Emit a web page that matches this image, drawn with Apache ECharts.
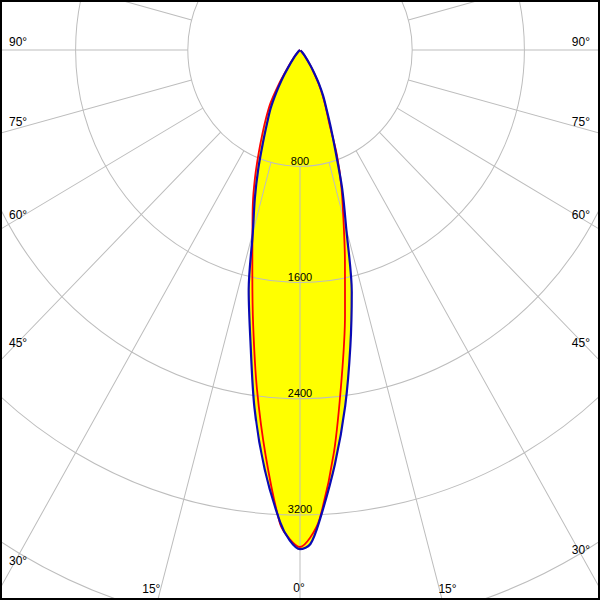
<!DOCTYPE html>
<html><head><meta charset="utf-8">
<script src="https://cdn.jsdelivr.net/npm/echarts@6/dist/echarts.min.js"></script>
<style>
html,body{margin:0;padding:0;background:#fff}
#wrap{position:relative;width:600px;height:600px;overflow:hidden;background:#fff}
#chart{position:absolute;left:0;top:0;width:600px;height:579px;transform:scaleY(1.036269);transform-origin:0 0}
#frame{position:absolute;left:0;top:0;width:600px;height:600px;box-sizing:border-box;border:2px solid #000;pointer-events:none}
</style></head><body>
<div id="wrap"><div id="chart"></div><div id="frame"></div></div>
<script>
// Gamma angles (deg from nadir) and luminous intensities (cd)
const gammas    = [0, 1.25, 2.5, 5, 7.5, 10, 12.5, 15, 17.5, 20, 22.5, 25, 27.5, 30, 32.5, 35, 40, 45, 50, 60, 70, 80, 90];
const blueLeft  = [3435, 3375, 3251, 2894, 2485, 2035, 1690, 1300, 1071, 870, 690, 555, 455, 340, 240, 150, 60, 22, 6, 0, 0, 0, 0];
const blueRight = [3435, 3400, 3236, 2860, 2470, 2068, 1705, 1275, 1000, 740, 570, 445, 360, 275, 190, 130, 55, 20, 5, 0, 0, 0, 0];
const redLeft   = [3420, 3366, 3262, 2804, 2352, 1923, 1570, 1310, 1120, 940, 772, 633, 520, 420, 290, 170, 70, 25, 8, 0, 0, 0, 0];
const redRight  = [3420, 3355, 3227, 2778, 2276, 1848, 1480, 1195, 980, 770, 545, 435, 345, 262, 182, 125, 50, 18, 4, 0, 0, 0, 0];

const radiusTickLabels = ['800', '1600', '2400', '3200'];
const angleTickLabels = ['90°', '75°', '60°', '45°', '30°', '15°', '0°', '15°', '30°', '45°', '60°', '75°', '90°'];

// layout (picture pixels)
const SY = 600 / 579;
const CENTER = [300, 50 / SY];
const PX_PER_CD = 112.2 / 800;
const RMAX = 4800;
const angleLabelLayout = [
  {x: 9, y: 42, align: 'left'},
  {x: 9, y: 121.5, align: 'left'},
  {x: 9, y: 215, align: 'left'},
  {x: 9, y: 342.5, align: 'left'},
  {x: 9, y: 561, align: 'left'},
  {x: 151.3, y: 588.5, align: 'center'},
  {x: 299, y: 588, align: 'center'},
  {x: 447.5, y: 588.5, align: 'center'},
  {x: 590, y: 549.5, align: 'right'},
  {x: 590, y: 342.5, align: 'right'},
  {x: 590, y: 214.5, align: 'right'},
  {x: 590, y: 121.5, align: 'right'},
  {x: 590, y: 42, align: 'right'}
];

function curve(left, right) {
  const pts = [];
  for (let i = gammas.length - 1; i >= 0; i--) pts.push([left[i], gammas[i]]);
  for (let i = 1; i < gammas.length; i++) pts.push([right[i], 360 - gammas[i]]);
  return pts;
}
const blueData = curve(blueLeft, blueRight);
const redData = curve(redLeft, redRight);

const chart = echarts.init(document.getElementById('chart'), null, {renderer: 'svg'});
const FONT = 'Liberation Sans, Arial, sans-serif';
const GRID = '#bdbdbd';
const SMOOTH = 0.3;

const graphics = angleTickLabels.map((t, i) => ({
  type: 'text',
  x: angleLabelLayout[i].x,
  y: angleLabelLayout[i].y / SY,
  z: 10,
  style: {text: t, fill: '#000', font: '12px ' + FONT, align: angleLabelLayout[i].align, verticalAlign: 'middle'}
}));

chart.setOption({
  animation: false,
  backgroundColor: '#fff',
  polar: [
    {center: CENTER, radius: RMAX * PX_PER_CD},
    {center: CENTER, radius: [800 * PX_PER_CD, 720]}
  ],
  angleAxis: [
    {polarIndex: 0, type: 'value', min: 0, max: 360, startAngle: 270, clockwise: true,
     axisLine: {show: false}, axisTick: {show: false}, axisLabel: {show: false}, splitLine: {show: false}},
    {polarIndex: 1, type: 'value', min: 0, max: 360, interval: 15, startAngle: 270, clockwise: true, z: 2,
     axisLine: {show: false}, axisTick: {show: false}, axisLabel: {show: false},
     splitLine: {show: true, lineStyle: {color: GRID, width: 1}}}
  ],
  radiusAxis: [
    {polarIndex: 0, type: 'value', min: 0, max: RMAX, interval: 800, z: 2,
     axisLine: {show: false}, axisTick: {show: false},
     splitLine: {show: true, lineStyle: {color: GRID, width: 1}},
     axisLabel: {show: true, margin: 0, rotate: 0, align: 'center', verticalAlign: 'bottom',
       color: '#000', fontSize: 11, fontFamily: FONT,
       formatter: v => { const s = String(v); return radiusTickLabels.indexOf(s) >= 0 ? s : ''; }}},
    {polarIndex: 1, type: 'value', min: 0, max: RMAX, show: false,
     axisLine: {show: false}, axisTick: {show: false}, axisLabel: {show: false}, splitLine: {show: false}}
  ],
  graphic: graphics,
  series: [
    {type: 'line', coordinateSystem: 'polar', polarIndex: 0, data: blueData, symbol: 'none', z: 1, silent: true, smooth: SMOOTH,
     lineStyle: {width: 0, opacity: 0}, areaStyle: {color: '#ffff00', opacity: 1}},
    {type: 'line', coordinateSystem: 'polar', polarIndex: 0, data: redData, symbol: 'none', z: 1, silent: true, smooth: SMOOTH,
     lineStyle: {width: 0, opacity: 0}, areaStyle: {color: '#ffff00', opacity: 1}},
    {type: 'line', coordinateSystem: 'polar', polarIndex: 0, data: redData, symbol: 'none', z: 3, silent: true, smooth: SMOOTH,
     lineStyle: {color: '#ff0000', width: 1.8}},
    {type: 'line', coordinateSystem: 'polar', polarIndex: 0, data: blueData, symbol: 'none', z: 4, silent: true, smooth: SMOOTH,
     lineStyle: {color: '#0a0ab4', width: 2.2}}
  ]
});
</script>
</body></html>
